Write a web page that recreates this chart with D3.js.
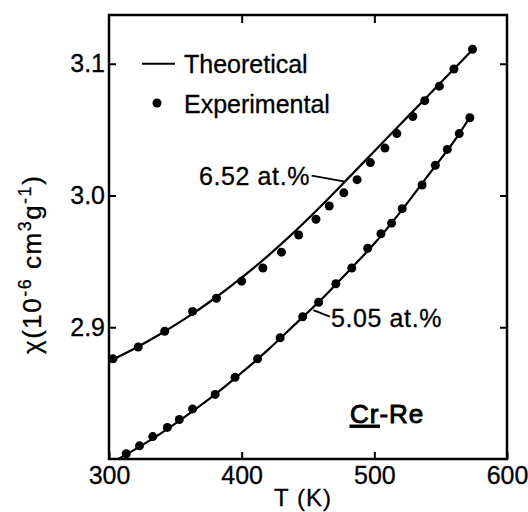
<!DOCTYPE html>
<html>
<head>
<meta charset="utf-8">
<script src="https://cdn.jsdelivr.net/npm/d3@7"></script>
<style>
  body { margin: 0; background: #fff; }
  svg { font-family: "Liberation Sans", Arial, sans-serif; }
  svg text { stroke: #000; stroke-width: 0.3; }
  .axis path.domain { display: none; }
  .axis line { stroke: #000; stroke-width: 2; }
  .axis text { font-size: 25px; fill: #000; font-family: "Liberation Sans", Arial, sans-serif; }
</style>
</head>
<body>
<div id="chart"></div>
<script>
/**
 * DATA
 * */
// 6.52 at.% experimental points
const tempHigh = [303, 322, 342, 363, 381, 400, 416, 430, 443, 456, 466, 477, 487, 497, 508, 517, 529, 538, 549, 560, 574];
const chiHigh = [2.876, 2.885, 2.897, 2.912, 2.922, 2.935, 2.945, 2.957, 2.970, 2.982, 2.992, 3.002, 3.012, 3.025, 3.036, 3.047, 3.060, 3.072, 3.083, 3.096, 3.111];
// 5.05 at.% experimental points
const tempLow = [313, 323, 333, 344, 353, 363, 380, 395, 412, 429, 446, 458, 471, 483, 495, 505, 513, 521, 536, 546, 555, 564, 572];
const chiLow = [2.804, 2.810, 2.817, 2.824, 2.830, 2.838, 2.849, 2.862, 2.876, 2.892, 2.908, 2.919, 2.933, 2.945, 2.960, 2.971, 2.979, 2.990, 3.008, 3.023, 3.035, 3.047, 3.059];

// theoretical curves
const theoTempHigh = [300, 320, 340, 360, 380, 400, 420, 440, 460, 480, 500, 520, 540, 560, 574];
const theoChiHigh = [2.874, 2.8842, 2.8956, 2.9082, 2.9222, 2.9376, 2.9544, 2.9726, 2.9922, 3.0128, 3.0336, 3.0544, 3.0752, 3.096, 3.1106];
const theoTempLow = [307, 320, 340, 360, 380, 400, 420, 440, 460, 480, 500, 520, 540, 560, 572];
const theoChiLow = [2.800, 2.8075, 2.820, 2.834, 2.849, 2.8655, 2.883, 2.902, 2.921, 2.942, 2.9635, 2.988, 3.0145, 3.041, 3.0594];

const xTicks = [300, 400, 500, 600];
const yTicks = [2.9, 3.0, 3.1];

/**
 * CONSTANTS
 * */
const width = 528,
  height = 512,
  margin = { top: 15, bottom: 53, left: 109, right: 21 },
  radius = 4.5;

const svg = d3.select("#chart")
  .append("svg")
  .attr("width", width)
  .attr("height", height);

const xScale = d3.scaleLinear()
  .domain([300, 600])
  .range([margin.left, width - margin.right]);

const yScale = d3.scaleLinear()
  .domain([2.8, 3.137])
  .range([height - margin.bottom, margin.top]);

// AXES (ticks point inward)
svg.append("g")
  .attr("class", "axis x-axis")
  .attr("transform", `translate(0,${height - margin.bottom})`)
  .call(d3.axisBottom(xScale).tickValues(xTicks).tickSize(-7).tickPadding(7).tickFormat(d3.format("d")));

svg.append("g")
  .attr("class", "axis")
  .attr("transform", `translate(0,${margin.top})`)
  .call(d3.axisTop(xScale).tickValues([400, 500]).tickSize(-8).tickFormat(""));

svg.append("g")
  .attr("class", "axis y-axis")
  .attr("transform", `translate(${margin.left},0)`)
  .call(d3.axisLeft(yScale).tickValues(yTicks).tickSize(-7).tickPadding(4).tickFormat(d3.format(".1f")));

svg.append("g")
  .attr("class", "axis")
  .attr("transform", `translate(${width - margin.right},0)`)
  .call(d3.axisRight(yScale).tickValues(yTicks).tickSize(-7).tickFormat(""));

// frame
svg.append("rect")
  .attr("x", xScale(300))
  .attr("y", yScale(3.137))
  .attr("width", xScale(600) - xScale(300))
  .attr("height", yScale(2.8) - yScale(3.137))
  .attr("fill", "none")
  .attr("stroke", "#000")
  .attr("stroke-width", 2.5);

// axis labels
svg.append("text")
  .attr("x", 303)
  .attr("y", 506)
  .attr("text-anchor", "middle")
  .attr("font-size", 24)
  .attr("letter-spacing", 1)
  .text("T (K)");

const yLab = svg.append("text")
  .attr("transform", "translate(41,354) rotate(-90)")
  .attr("font-size", 26)
  .attr("letter-spacing", 1.5);
yLab.append("tspan").text("χ(10");
yLab.append("tspan").attr("dy", -10).attr("font-size", 18).text("-6");
yLab.append("tspan").attr("dy", 10).text(" cm");
yLab.append("tspan").attr("dy", -10).attr("font-size", 18).text("3");
yLab.append("tspan").attr("dy", 10).text("g");
yLab.append("tspan").attr("dy", -10).attr("font-size", 18).text("-1");
yLab.append("tspan").attr("dy", 10).text(")");

// theoretical lines
const line = d3.line()
  .x(d => xScale(d[0]))
  .y(d => yScale(d[1]))
  .curve(d3.curveCatmullRom);

[[theoTempHigh, theoChiHigh], [theoTempLow, theoChiLow]].forEach(([t, c]) => {
  svg.append("path")
    .datum(t.map((v, i) => [v, c[i]]))
    .attr("fill", "none")
    .attr("stroke", "#000")
    .attr("stroke-width", 2.2)
    .attr("d", line);
});

// experimental points
const points = tempHigh.map((t, i) => [t, chiHigh[i]])
  .concat(tempLow.map((t, i) => [t, chiLow[i]]));

svg.selectAll(".dot")
  .data(points)
  .join("circle")
  .attr("class", "dot")
  .attr("cx", d => xScale(d[0]))
  .attr("cy", d => yScale(d[1]))
  .attr("r", radius)
  .attr("fill", "#000");

// legend
svg.append("line")
  .attr("x1", 142).attr("x2", 175)
  .attr("y1", yScale(3.1)).attr("y2", yScale(3.1))
  .attr("stroke", "#000").attr("stroke-width", 2.2);
svg.append("text").attr("x", 184).attr("y", 73).attr("font-size", 25).text("Theoretical");
svg.append("circle").attr("cx", 157).attr("cy", 103).attr("r", radius).attr("fill", "#000");
svg.append("text").attr("x", 184).attr("y", 113).attr("font-size", 25).text("Experimental");

// curve labels
svg.append("text").attr("x", 199).attr("y", 185).attr("font-size", 25)
  .attr("letter-spacing", 0.6).text("6.52 at.%");
svg.append("line")
  .attr("x1", xScale(452.8)).attr("y1", yScale(3.015))
  .attr("x2", xScale(477.9)).attr("y2", yScale(3.0106))
  .attr("stroke", "#000").attr("stroke-width", 1.8);

svg.append("text").attr("x", 331).attr("y", 327).attr("font-size", 25)
  .attr("letter-spacing", 0.6).text("5.05 at.%");
svg.append("line")
  .attr("x1", xScale(454)).attr("y1", yScale(2.913))
  .attr("x2", xScale(466.5)).attr("y2", yScale(2.908))
  .attr("stroke", "#000").attr("stroke-width", 1.8);

// alloy label
const alloy = svg.append("text").attr("x", 350).attr("y", 423)
  .attr("font-size", 26).attr("letter-spacing", 1).style("stroke-width", 0.9);
alloy.append("tspan").attr("text-decoration", "underline").text("Cr");
alloy.append("tspan").text("-Re");
</script>
</body>
</html>
